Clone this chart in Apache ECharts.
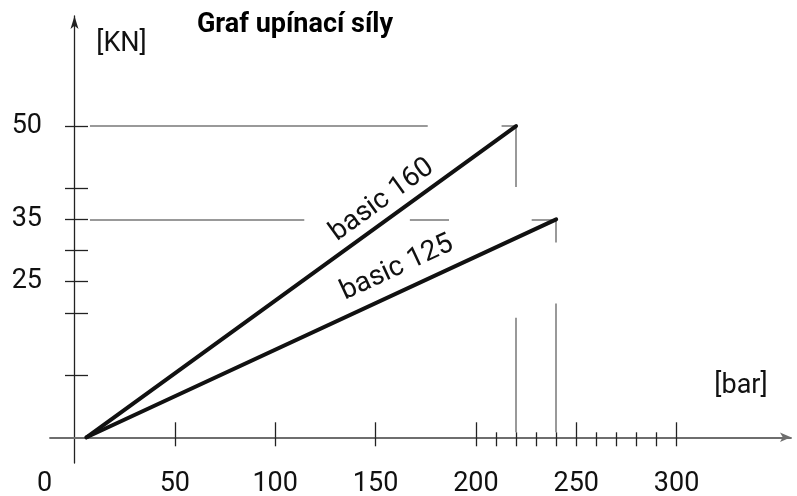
<!DOCTYPE html>
<html><head><meta charset="utf-8">
<script src="https://cdn.jsdelivr.net/npm/echarts@6/dist/echarts.min.js"></script>
<style>html,body{margin:0;padding:0;background:#fff}#c{width:797px;height:496px}</style>
</head><body><div id="c"></div>
<script>
// ---- data ----
const chartTitle = 'Graf upínací síly';
const yUnit = '[KN]';
const xUnit = '[bar]';
const xLabelValues = [0, 50, 100, 150, 200, 250, 300];
const xMajorTicks = [50, 100, 150, 200, 250, 300];
const xMinorTicks = [210, 220, 230, 240, 260, 270, 280, 290];
const yLabelValues = [25, 35, 50];
const yTickValues = [10, 20, 25, 30, 35, 40, 50];
const seriesNames = ['basic 160', 'basic 125'];
const basic160 = [[6, 0], [220, 50]];
const basic125 = [[6, 0], [240, 35]];
const guideLines = [
  [[7.7, 50], [176, 50]],
  [[212.8, 50], [220, 50]],
  [[220, 50], [220, 40.2]],
  [[220, 19.2], [220, 0.8]],
  [[7.7, 35], [114.5, 35]],
  [[167.1, 35], [186.6, 35]],
  [[227.8, 35], [240, 35]],
  [[240, 35], [240, 31.3]],
  [[240, 21.5], [240, 0.8]]
];
const labelAnchors = [[153.2, 38.1], [160.7, 27.2]];
const xRange = [-12.2, 357];
const yRange = [-4.13, 67.67];

// ---- style ----
const FONT = 'Roboto,"Liberation Sans",sans-serif';
const TICK = '#222';
const GUIDE = '#777';

const chart = echarts.init(document.getElementById('c'), null, {renderer: 'canvas'});

function xAx(extra) {
  return Object.assign({
    type: 'value', min: xRange[0], max: xRange[1],
    splitLine: {show: false}, axisLabel: {show: false},
  }, extra);
}
function yAx(extra) {
  return Object.assign({
    type: 'value', min: yRange[0], max: yRange[1],
    splitLine: {show: false}, axisLabel: {show: false},
  }, extra);
}

function buildOption(angles) {
  return {
    animation: false,
    backgroundColor: '#fff',
    grid: {left: 50, right: 6, top: 16, bottom: 33, outerBoundsMode: 'none', containLabel: false},
    xAxis: [
      xAx({
        position: 'bottom',
        axisLine: {show: true, onZero: true, onZeroAxisIndex: 0,
          symbol: ['none', 'arrow'], symbolSize: [7, 11],
          lineStyle: {color: '#6e6e6e', width: 1.8}},
        axisTick: {show: true, inside: true, length: 15, customValues: xMajorTicks,
          lineStyle: {color: TICK, width: 1.3}},
        axisLabel: {show: true, customValues: xLabelValues, margin: 21, verticalAlign: 'middle',
          fontSize: 27, fontFamily: FONT, color: '#111',
          formatter: v => v === 0 ? '{z|0}' : String(v),
          rich: {z: {padding: [0, 60, 0, 0], fontSize: 27, fontFamily: FONT, color: '#111'}}}
      }),
      xAx({
        position: 'top',
        axisLine: {show: false, onZero: true, onZeroAxisIndex: 0},
        axisTick: {show: true, inside: true, length: 9,
          customValues: xMajorTicks.concat(xMinorTicks),
          lineStyle: {color: TICK, width: 1.3}}
      }),
      xAx({
        position: 'top',
        axisLine: {show: false, onZero: true, onZeroAxisIndex: 0},
        axisTick: {show: true, inside: false, length: 5, customValues: xMinorTicks,
          lineStyle: {color: TICK, width: 1.3}}
      })
    ],
    yAxis: [
      yAx({
        position: 'left',
        axisLine: {show: true, onZero: true, onZeroAxisIndex: 0,
          symbol: ['none', 'arrow'], symbolSize: [6, 13],
          lineStyle: {color: '#222', width: 1.3}},
        axisTick: {show: true, inside: false, length: 9.5, customValues: yTickValues,
          lineStyle: {color: TICK, width: 1.3}},
        axisLabel: {show: true, customValues: yLabelValues, margin: 8,
          fontSize: 27, fontFamily: FONT, color: '#111'}
      }),
      yAx({
        position: 'right',
        axisLine: {show: false, onZero: true, onZeroAxisIndex: 0},
        axisTick: {show: true, inside: false, length: 13.5, customValues: yTickValues,
          lineStyle: {color: TICK, width: 1.3}}
      })
    ],
    series: [
      {
        type: 'lines', coordinateSystem: 'cartesian2d', xAxisIndex: 0, yAxisIndex: 0,
        silent: true, z: 1,
        lineStyle: {color: GUIDE, width: 1.5, opacity: 1, curveness: 0},
        data: guideLines.map(c => ({coords: c}))
      },
      ...[basic160, basic125].map((d, i) => ({
        type: 'line', name: seriesNames[i], xAxisIndex: 0, yAxisIndex: 0, z: 3,
        data: d, symbol: 'none', lineStyle: {color: '#111', width: 4, cap: 'round'},
        markPoint: {
          symbol: 'circle', symbolSize: 1, itemStyle: {color: 'rgba(0,0,0,0)'},
          data: [{coord: labelAnchors[i], name: seriesNames[i]}],
          label: {show: true, position: 'inside', formatter: seriesNames[i],
            rotate: angles[i], fontSize: 28, fontFamily: FONT, color: '#111'}
        }
      }))
    ],
    graphic: [
      {type: 'text', x: 295, y: 25, style: {text: chartTitle, fill: '#000',
        font: 'bold 27px ' + FONT, align: 'center', verticalAlign: 'middle'}},
      {type: 'text', x: 121.5, y: 44, style: {text: yUnit, fill: '#111',
        font: '27px ' + FONT, align: 'center', verticalAlign: 'middle'}},
      {type: 'text', x: 741, y: 386, style: {text: xUnit, fill: '#111',
        font: '27px ' + FONT, align: 'center', verticalAlign: 'middle'}}
    ]
  };
}

chart.setOption(buildOption([36, 25]));
// compute label angles from the actual scales
const angles = [basic160, basic125].map(d => {
  const a = chart.convertToPixel({xAxisIndex: 0, yAxisIndex: 0}, d[0]);
  const b = chart.convertToPixel({xAxisIndex: 0, yAxisIndex: 0}, d[1]);
  return Math.atan2(a[1] - b[1], b[0] - a[0]) * 180 / Math.PI;
});
chart.setOption(buildOption(angles));
</script>
</body></html>
